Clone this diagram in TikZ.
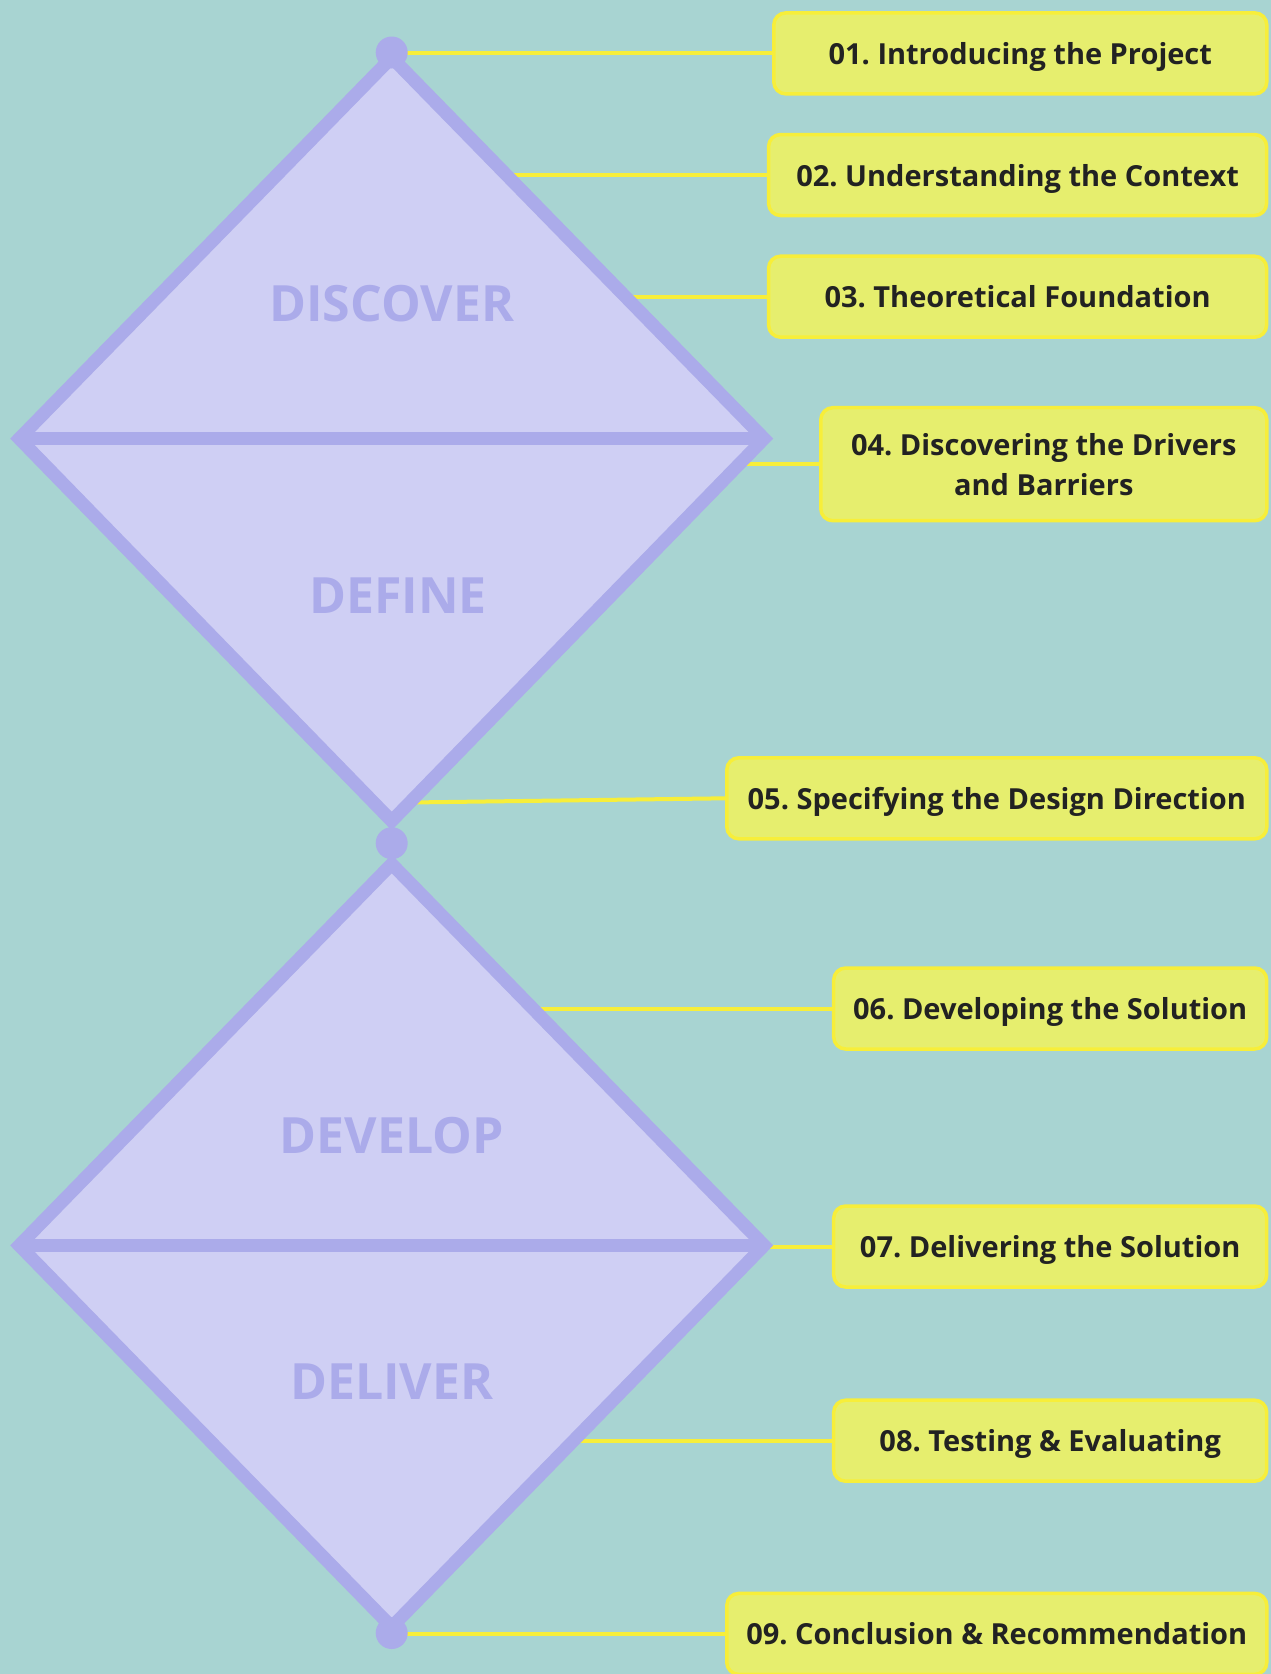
\documentclass[tikz,border=0pt]{standalone}
\usepackage{fontspec}
\setmainfont{Open Sans}
\frenchspacing
\usetikzlibrary{positioning}

\definecolor{bgteal}{HTML}{A8D4D2}
\definecolor{lilacfill}{HTML}{CFCFF4}
\definecolor{lilacline}{HTML}{ABABEA}
\definecolor{boxfill}{HTML}{E6EE6E}
\definecolor{boxline}{HTML}{F7EE3A}
\definecolor{boxtext}{HTML}{222222}

\begin{document}
\begin{tikzpicture}[
  x=1pt, y=-1pt,
  phase/.style={draw=lilacline, fill=lilacfill, line width=13pt, line join=miter},
  phaselabel/.style={text=lilacline, font=\fontsize{50}{56}\selectfont\bfseries},
  knot/.style={circle, fill=lilacline, minimum size=32pt, inner sep=0pt},
  chapter/.style={draw=boxline, fill=boxfill, line width=3.5pt, rounded corners=12pt,
    text=boxtext, font=\fontsize{29}{40}\selectfont\bfseries, align=center,
    minimum height=81pt, inner sep=0pt, text depth=0pt},
  link/.style={draw=boxline, line width=4pt}
]
\fill[bgteal] (0,0) rectangle (1271,1674);
\useasboundingbox (0,0) rectangle (1271,1674);

% corners of the two diamonds
\coordinate (d1t) at (391.7,57.5);
\coordinate (d1r) at (764.1,438.6);
\coordinate (d1b) at (391.7,821);
\coordinate (d1l) at (19.3,438.6);
\coordinate (d2t) at (391.7,864);
\coordinate (d2r) at (764.1,1245.4);
\coordinate (d2b) at (391.7,1627);
\coordinate (d2l) at (19.3,1245.4);

% chapter boxes
\node[chapter, minimum width=493pt] (c1) at (1020.3,53.4) {01. Introducing the Project};
\node[chapter, minimum width=498pt] (c2) at (1017.6,175) {02. Understanding the Context};
\node[chapter, minimum width=498pt] (c3) at (1017.6,296.7) {03. Theoretical Foundation};
\node[chapter, minimum width=446pt, minimum height=113pt] (c4) at (1043.8,464.2) {04. Discovering the Drivers\\and Barriers};
\node[chapter, minimum width=540pt] (c5) at (996.8,798.3) {05. Specifying the Design Direction};
\node[chapter, minimum width=433pt] (c6) at (1050.2,1008.5) {06. Developing the Solution};
\node[chapter, minimum width=433pt] (c7) at (1050.2,1246.5) {07. Delivering the Solution};
\node[chapter, minimum width=433pt] (c8) at (1050.2,1440.7) {08. Testing \& Evaluating};
\node[chapter, minimum width=540pt] (c9) at (996.8,1633.9) {09. Conclusion \& Recommendation};

% where the links leave the diamonds
\coordinate (s1) at (391.7,53.4);
\coordinate (s2) at (508,175);
\coordinate (s3) at (626,296.7);
\coordinate (s4) at (739.2,464.2);
\coordinate (s5) at (409.5,802.5);
\coordinate (s6) at (535,1008.5);
\coordinate (s7) at (764.1,1246.5);
\coordinate (s8) at (574.6,1440.7);
\coordinate (s9) at (391.7,1633.9);

\foreach \i in {1,...,9}
  \draw[link] (s\i) -- (c\i.west);

\path[phase] (d1t) -- (d1r) -- (d1b) -- (d1l) -- cycle;
\draw[phase] (d1l) -- (d1r);
\path[phase] (d2t) -- (d2r) -- (d2b) -- (d2l) -- cycle;
\draw[phase] (d2l) -- (d2r);

\node[phaselabel] (discover) at (391.7,304) {DISCOVER};
\node[phaselabel] (define) at (398,595.5) {DEFINE};
\node[phaselabel] (develop) at (391.7,1135.5) {DEVELOP};
\node[phaselabel] (deliver) at (391.7,1382) {DELIVER};

\node[knot] (k1) at (391.7,52.5) {};
\node[knot] (k2) at (391.7,843.2) {};
\node[knot] (k3) at (391.7,1633) {};
\end{tikzpicture}
\end{document}
